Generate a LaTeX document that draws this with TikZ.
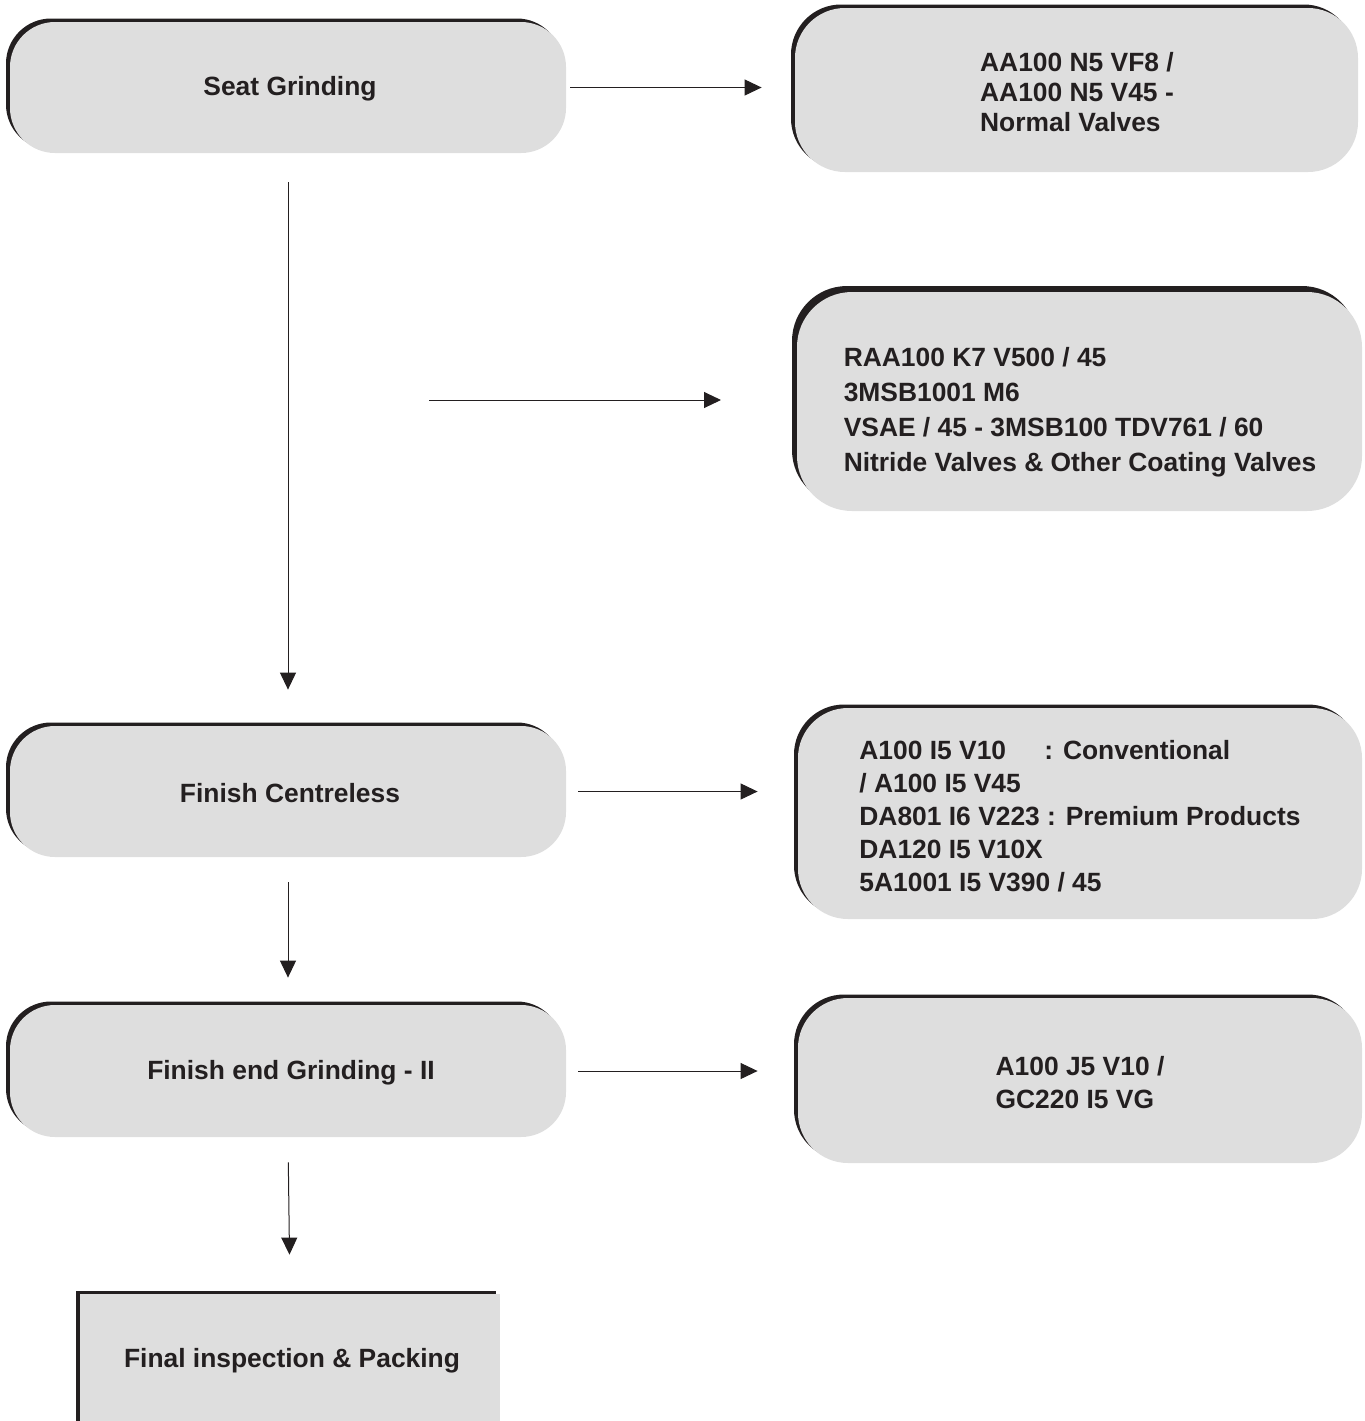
\documentclass[tikz,border=0pt]{standalone}
\usepackage{fontspec}
\setmainfont{Liberation Sans}
\usetikzlibrary{shadows,arrows.meta}
\definecolor{boxfill}{HTML}{DEDEDE}
\definecolor{ink}{HTML}{231F20}
\begin{document}
\begin{tikzpicture}[x=0.5pt,y=-0.5pt,
  boxbase/.style={fill=boxfill, text=ink, inner sep=0pt, align=left,
    font=\bfseries\fontsize{13.2}{16.5}\selectfont},
  boxtext/.style={text=ink, inner sep=0pt, align=left,
    font=\bfseries\fontsize{13.2}{16.5}\selectfont},
  roundbox/.style={boxbase, rounded corners=#1,
    general shadow={shadow xshift=-2pt, shadow yshift=1.75pt, fill=ink}},
  roundbox/.default=22.5pt,
  thickbox/.style={boxbase, rounded corners=27.5pt,
    general shadow={shadow xshift=-2.5pt, shadow yshift=3pt, fill=ink}},
  squarebox/.style={boxbase,
    general shadow={shadow xshift=-2.25pt, shadow yshift=1.5pt, fill=ink}},
  flow/.style={draw=ink, line width=0.5pt, -{Triangle[length=8.5pt,width=8pt]}}]
\useasboundingbox (0,0) rectangle (1365,1421);

\node[roundbox, minimum width=278pt, minimum height=65.5pt] (b1) at (288,87.5) {};
\node[boxtext] (t1) at (290,88.5) {Seat Grinding};
\node[roundbox=25pt, minimum width=281.5pt, minimum height=82pt] (b2) at (1076.5,90) {};
\node[boxtext, font=\bfseries\fontsize{13.2}{15}\selectfont] (t2) at (1077,92.5)
  {AA100 N5 VF8 /\\AA100 N5 V45 -\\Normal Valves};
\node[thickbox, minimum width=282.5pt, minimum height=109.5pt] (b3) at (1079.5,401.5) {};
\node[boxtext, font=\bfseries\fontsize{13.2}{17.5}\selectfont] (t3) at (1080,412)
  {RAA100 K7 V500 / 45\\3MSB1001 M6\\VSAE / 45 - 3MSB100 TDV761 / 60\\Nitride Valves \& Other Coating Valves};
\node[roundbox, minimum width=278pt, minimum height=65.5pt] (b4) at (288,791.5) {};
\node[boxtext] (t4) at (290,793) {Finish Centreless};
\node[roundbox=25pt, minimum width=282pt, minimum height=105.5pt] (b5) at (1080,813.5) {};
\node[boxtext] (t5) at (1080,816.5)
  {A100 I5 V10\hspace{1.45em}: Conventional\\/ A100 I5 V45\\DA801 I6 V223 : Premium Products\\DA120 I5 V10X\\5A1001 I5 V390 / 45};
\node[roundbox, minimum width=278pt, minimum height=66pt] (b6) at (288,1071) {};
\node[boxtext] (t6) at (291,1072.5) {Finish end Grinding - II};
\node[roundbox=25pt, minimum width=282pt, minimum height=82.5pt] (b7) at (1080,1080.5) {};
\node[boxtext] (t7) at (1080,1083) {A100 J5 V10 /\\GC220 I5 VG};
\node[squarebox, minimum width=210pt, minimum height=65pt] (b8) at (290,1359) {};
\node[boxtext] (t8) at (292,1360.5) {Final inspection \& Packing};

\coordinate (fs) at (429,400);
\coordinate (fe) at (721,400);

\draw[flow, shorten <=2pt, shorten >=16.5pt] (b1.east) -- (b1.east -| b2.west);
\draw[flow, shorten <=14.5pt, shorten >=18pt] (b1.south) -- (b4.north);
\draw[flow] (fs) -- (fe);
\draw[flow, shorten <=6pt, shorten >=20pt] (b4.east) -- (b4.east -| b5.west);
\draw[flow, shorten <=12.5pt, shorten >=13.5pt] (b4.south) -- (b6.north);
\draw[flow, shorten <=6pt, shorten >=20pt] (b6.east) -- (b6.east -| b7.west);
\draw[flow, shorten <=12.5pt, shorten >=19.5pt] (b6.south) -- (b8.north);
\end{tikzpicture}
\end{document}
